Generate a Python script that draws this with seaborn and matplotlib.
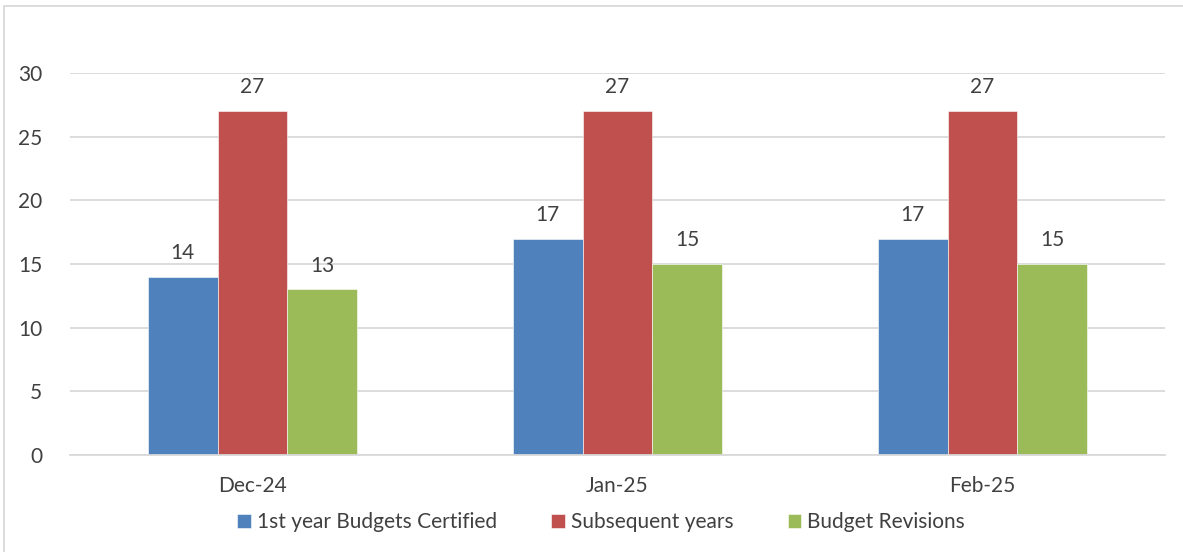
import pandas as pd
import seaborn as sns
import matplotlib.pyplot as plt
from matplotlib.patches import Rectangle

# data
months = ["Dec-24", "Jan-25", "Feb-25"]
first_year = [14, 17, 17]
subsequent = [27, 27, 27]
revisions = [13, 15, 15]
series_names = ["1st year Budgets Certified", "Subsequent years", "Budget Revisions"]
colors = ["#4F81BD", "#C0504D", "#9BBB59"]

df = pd.DataFrame({
    "month": months * 3,
    "series": [series_names[0]] * 3 + [series_names[1]] * 3 + [series_names[2]] * 3,
    "value": first_year + subsequent + revisions,
})

sns.set_theme(style="white")
plt.rcParams["font.family"] = ["Lato", "DejaVu Sans"]
text_col = "#404040"

fig = plt.figure(figsize=(11.83, 5.52), dpi=100)
ax = fig.add_axes([70 / 1183, 1 - 455 / 552, 1095 / 1183, 382 / 552])

sns.barplot(data=df, x="month", y="value", hue="series", palette=colors,
            width=0.575, ax=ax, saturation=1, edgecolor="white", linewidth=0.4)

for c in ax.containers:
    ax.bar_label(c, padding=10, fontsize=15, color=text_col)

ax.set_ylim(0, 30)
ax.set_yticks(range(0, 31, 5))
ax.yaxis.grid(True, color="#D9D9D9", linewidth=1.3)
ax.set_axisbelow(True)
for s in ["top", "right", "left"]:
    ax.spines[s].set_visible(False)
ax.spines["bottom"].set_color("#D9D9D9")
ax.spines["bottom"].set_linewidth(1.3)
ax.tick_params(axis="both", length=0, labelsize=15, labelcolor=text_col)
ax.tick_params(axis="y", pad=20)
ax.tick_params(axis="x", pad=15)
ax.set_xlabel("")
ax.set_ylabel("")

ax.legend(loc="upper center", bbox_to_anchor=(0.485, -0.1), ncol=3, frameon=False,
          fontsize=15, handlelength=0.65, handleheight=0.65, handletextpad=0.3,
          columnspacing=2.6, labelcolor=text_col)

fig.patches.append(Rectangle((4 / 1183, -0.05), 1.1, 1.05 - 6 / 552,
                             transform=fig.transFigure, fill=False,
                             edgecolor="#D9D9D9", linewidth=1.3))

plt.savefig("out.png", dpi=100)
plt.close()
